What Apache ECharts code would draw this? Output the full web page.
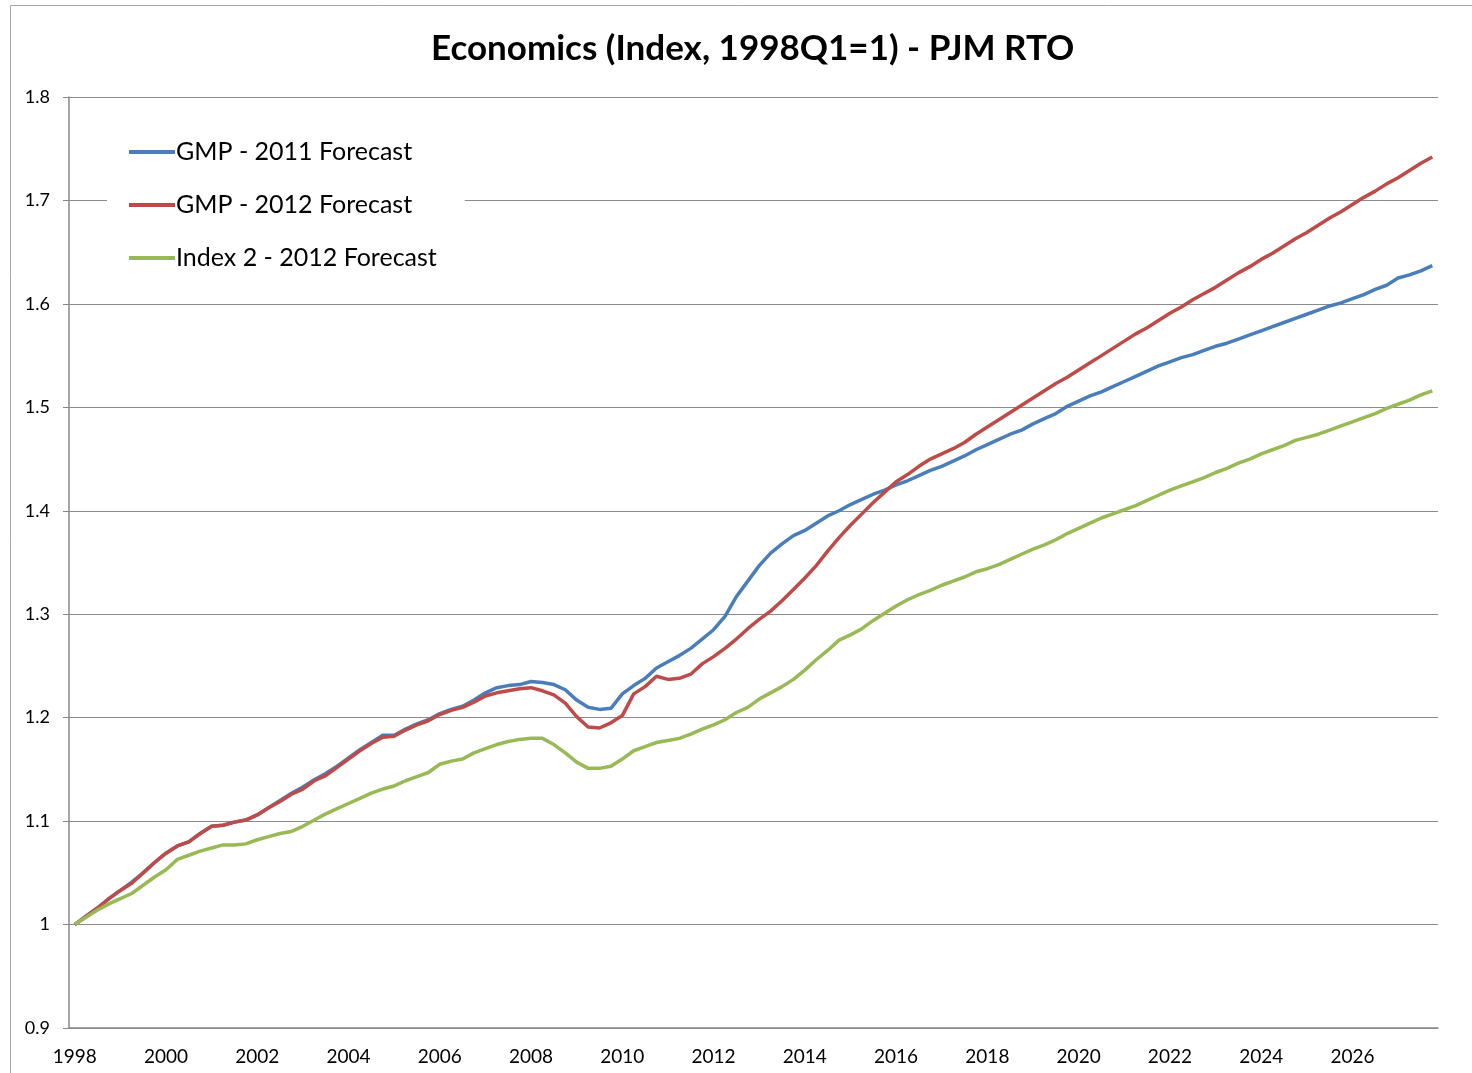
<!DOCTYPE html>
<html>
<head>
<meta charset="utf-8">
<script src="https://cdn.jsdelivr.net/npm/echarts@6/dist/echarts.min.js"></script>
<style>
  html, body { margin: 0; padding: 0; background: #fff; }
  #chart { width: 1472px; height: 1073px; }
</style>
</head>
<body>
<div id="chart"></div>
<script>
// years on the axis, one category per quarter
var years = [1998, 1999, 2000, 2001, 2002, 2003, 2004, 2005, 2006, 2007,
  2008, 2009, 2010, 2011, 2012, 2013, 2014, 2015, 2016, 2017,
  2018, 2019, 2020, 2021, 2022, 2023, 2024, 2025, 2026, 2027];
var quarters = [];
years.forEach(function (y) {
  ['Q1', 'Q2', 'Q3', 'Q4'].forEach(function (q) { quarters.push(y + q); });
});

// GMP - 2011 Forecast
var gmp2011 = [
  1.000, 1.008, 1.016, 1.025, 1.033, 1.041, 1.050, 1.060, 1.069, 1.076,
  1.080, 1.088, 1.095, 1.096, 1.099, 1.101, 1.106, 1.113, 1.120, 1.127,
  1.133, 1.140, 1.146, 1.153, 1.161, 1.169, 1.176, 1.183, 1.183, 1.189,
  1.194, 1.198, 1.204, 1.208, 1.211, 1.217, 1.224, 1.229, 1.231, 1.232,
  1.235, 1.234, 1.232, 1.227, 1.217, 1.210, 1.208, 1.209, 1.223, 1.231,
  1.238, 1.248, 1.254, 1.260, 1.267, 1.276, 1.285, 1.298, 1.317, 1.332,
  1.347, 1.359, 1.368, 1.376, 1.381, 1.388, 1.395, 1.400, 1.406, 1.411,
  1.416, 1.420, 1.425, 1.429, 1.434, 1.439, 1.443, 1.448, 1.453, 1.459,
  1.464, 1.469, 1.474, 1.478, 1.484, 1.489, 1.494, 1.501, 1.506, 1.511,
  1.515, 1.520, 1.525, 1.530, 1.535, 1.540, 1.544, 1.548, 1.551, 1.555,
  1.559, 1.562, 1.566, 1.570, 1.574, 1.578, 1.582, 1.586, 1.590, 1.594,
  1.598, 1.601, 1.605, 1.609, 1.614, 1.618, 1.625, 1.628, 1.632, 1.637
];

// GMP - 2012 Forecast
var gmp2012 = [
  1.000, 1.008, 1.016, 1.025, 1.033, 1.040, 1.050, 1.060, 1.069, 1.076,
  1.080, 1.088, 1.095, 1.096, 1.099, 1.101, 1.106, 1.113, 1.119, 1.126,
  1.131, 1.139, 1.144, 1.152, 1.160, 1.168, 1.175, 1.181, 1.182, 1.188,
  1.193, 1.197, 1.203, 1.207, 1.210, 1.215, 1.221, 1.224, 1.226, 1.228,
  1.229, 1.226, 1.222, 1.214, 1.201, 1.191, 1.190, 1.195, 1.202, 1.223,
  1.230, 1.240, 1.237, 1.238, 1.242, 1.252, 1.259, 1.267, 1.276, 1.286,
  1.295, 1.303, 1.313, 1.324, 1.335, 1.347, 1.361, 1.374, 1.386, 1.397,
  1.408, 1.418, 1.428, 1.435, 1.443, 1.450, 1.455, 1.460, 1.466, 1.474,
  1.481, 1.488, 1.495, 1.502, 1.509, 1.516, 1.523, 1.529, 1.536, 1.543,
  1.550, 1.557, 1.564, 1.571, 1.577, 1.584, 1.591, 1.597, 1.604, 1.610,
  1.616, 1.623, 1.630, 1.636, 1.643, 1.649, 1.656, 1.663, 1.669, 1.676,
  1.683, 1.689, 1.696, 1.703, 1.709, 1.716, 1.722, 1.729, 1.736, 1.742
];

// Index 2 - 2012 Forecast
var index2 = [
  1.000, 1.007, 1.014, 1.020, 1.025, 1.030, 1.038, 1.046, 1.053, 1.063,
  1.067, 1.071, 1.074, 1.077, 1.077, 1.078, 1.082, 1.085, 1.088, 1.090,
  1.095, 1.101, 1.107, 1.112, 1.117, 1.122, 1.127, 1.131, 1.134, 1.139,
  1.143, 1.147, 1.155, 1.158, 1.160, 1.166, 1.170, 1.174, 1.177, 1.179,
  1.180, 1.180, 1.174, 1.166, 1.157, 1.151, 1.151, 1.153, 1.160, 1.168,
  1.172, 1.176, 1.178, 1.180, 1.184, 1.189, 1.193, 1.198, 1.205, 1.210,
  1.218, 1.224, 1.230, 1.237, 1.246, 1.256, 1.265, 1.275, 1.280, 1.286,
  1.294, 1.301, 1.308, 1.314, 1.319, 1.323, 1.328, 1.332, 1.336, 1.341,
  1.344, 1.348, 1.353, 1.358, 1.363, 1.367, 1.372, 1.378, 1.383, 1.388,
  1.393, 1.397, 1.401, 1.405, 1.410, 1.415, 1.420, 1.424, 1.428, 1.432,
  1.437, 1.441, 1.446, 1.450, 1.455, 1.459, 1.463, 1.468, 1.471, 1.474,
  1.478, 1.482, 1.486, 1.490, 1.494, 1.499, 1.503, 1.507, 1.512, 1.516
];

var seriesNames = ['GMP - 2011 Forecast', 'GMP - 2012 Forecast', 'Index 2 - 2012 Forecast'];
var colors = ['#4a7ebb', '#be4b48', '#98b954'];
var font = 'Lato, "Open Sans", sans-serif';

var chart = echarts.init(document.getElementById('chart'));

var option = {
  backgroundColor: '#fff',
  color: colors,
  animation: false,
  title: {
    text: 'Economics (Index, 1998Q1=1) - PJM RTO',
    left: 426,
    top: 26,
    textStyle: { fontFamily: font, fontSize: 35, fontWeight: 'bold', color: '#000' }
  },
  graphic: [{
    type: 'rect',
    shape: { x: 10.5, y: 5.5, width: 1500, height: 1100 },
    style: { fill: 'none', stroke: '#a6a6a6', lineWidth: 1 },
    silent: true
  }],
  legend: {
    orient: 'vertical',
    left: 107,
    top: 121,
    padding: [18, 28, 18, 22],
    backgroundColor: '#fff',
    itemWidth: 46,
    itemHeight: 4,
    itemGap: 27,
    icon: 'rect',
    textStyle: { fontFamily: font, fontSize: 25, color: '#000', lineHeight: 26, padding: [0, 0, 0, -4] },
    data: seriesNames
  },
  grid: { left: 69, right: 34, top: 97, bottom: 45, containLabel: false },
  xAxis: {
    type: 'category',
    data: quarters,
    boundaryGap: true,
    axisLine: { lineStyle: { color: '#888', width: 1.5 } },
    axisTick: { interval: 0, length: 5, lineStyle: { color: '#888' } },
    axisLabel: {
      interval: 7,
      margin: 19,
      fontFamily: font,
      fontSize: 19,
      color: '#000',
      formatter: function (v) { return v.slice(0, 4); }
    },
    splitLine: { show: false }
  },
  yAxis: {
    type: 'value',
    min: 0.9,
    max: 1.8,
    interval: 0.1,
    axisLine: { show: true, lineStyle: { color: '#888', width: 1.5 } },
    axisTick: { show: true, length: 6, lineStyle: { color: '#888' } },
    axisLabel: {
      margin: 19,
      fontFamily: font,
      fontSize: 18,
      color: '#000',
      formatter: function (v) { return String(Math.round(v * 10) / 10); }
    },
    splitLine: { lineStyle: { color: '#8c8c8c', width: 1.2 } }
  },
  series: [
    { name: seriesNames[0], type: 'line', data: gmp2011, showSymbol: false, lineStyle: { width: 3.5 }, z: 2 },
    { name: seriesNames[1], type: 'line', data: gmp2012, showSymbol: false, lineStyle: { width: 3.5 }, z: 3 },
    { name: seriesNames[2], type: 'line', data: index2, showSymbol: false, lineStyle: { width: 3.5 }, z: 4 }
  ]
};

chart.setOption(option);
</script>
</body>
</html>
